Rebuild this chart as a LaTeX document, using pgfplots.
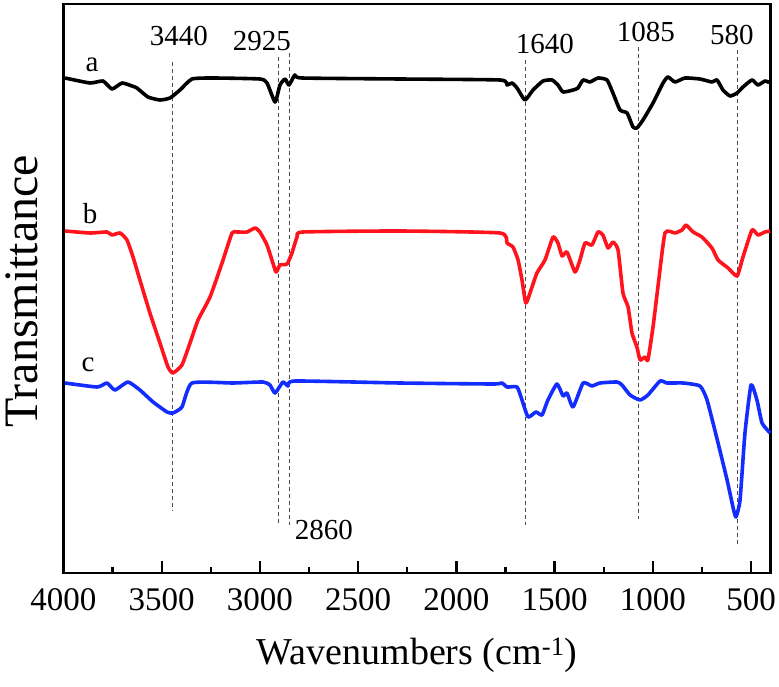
\documentclass[border=0pt]{standalone}
\usepackage{fontspec}
\setmainfont{Liberation Serif}
\usepackage{pgfplots}
\pgfplotsset{compat=1.18}
\definecolor{cred}{RGB}{255,20,30}
\definecolor{cblue}{RGB}{20,45,255}
\begin{document}
\begin{tikzpicture}
\begin{axis}[
  scale only axis,
  width=707.2pt, height=569pt,
  x dir=reverse,
  xmin=400, xmax=4000,
  ymin=0, ymax=569,
  axis line style={line width=2.6pt},
  xtick={500,1000,1500,2000,2500,3000,3500,4000},
  minor x tick num=1,
  xtick pos=bottom,
  tick align=inside,
  major tick length=12pt,
  minor tick length=6pt,
  every tick/.style={line width=2.4pt, black},
  ytick=\empty,
  /pgf/number format/assume math mode=true,
  /pgf/number format/1000 sep={},
  xticklabel style={font=\fontsize{33}{38}\selectfont, yshift=-12pt},
  xlabel={Wavenumbers (cm\textsuperscript{-1})},
  xlabel style={font=\fontsize{38}{44}\selectfont, yshift=-20pt},
  clip=false,
]
\pgfplotsset{dl/.style={line width=1pt, gray!60!black, dash pattern=on 4pt off 3pt},
  cv/.style={line width=3.6pt, line join=round, smooth, tension=0.3}}
\addplot[dl] coordinates {(3444,511) (3444,62)};
\addplot[dl] coordinates {(2905,516) (2905,48)};
\addplot[dl] coordinates {(2848,520) (2848,48)};
\addplot[dl] coordinates {(1647,513) (1647,48)};
\addplot[dl] coordinates {(1075,526) (1075,54)};
\addplot[dl] coordinates {(570,523) (570,26)};

\addplot[black, cv] coordinates {
(3992,495) (3865,490) (3799,492) (3753,484) (3702,490) (3651,487) (3626,485)
(3570,476) (3509,473) (3458,475) (3407,483) (3346,494) (3239,495) (3000,494)
(2964,490) (2923,471) (2898,488) (2872,494) (2852,488) (2822,498) (2786,495)
(2287,494) (1778,493) (1742,488) (1717,490) (1691,485) (1651,473) (1610,483)
(1559,492) (1513,493) (1483,488) (1457,481) (1406,483) (1381,485) (1355,493)
(1320,491) (1279,495) (1233,493) (1203,480) (1167,463) (1131,460) (1101,446)
(1081,445) (1050,453) (999,470) (948,490) (923,496) (887,491) (836,495)
(760,494) (699,491) (673,493) (643,483) (607,477) (571,480) (541,486)
(495,493) (465,488) (429,492) (414,491) (403,491)
};

\addplot[cred, cv] coordinates {
(3992,342) (3865,340) (3779,341) (3753,338) (3712,340) (3677,333) (3646,316)
(3611,293) (3560,260) (3509,230) (3468,206) (3443,200) (3397,208) (3356,230)
(3315,253) (3254,276) (3193,310) (3142,340) (3117,341) (3066,341) (3025,345)
(3000,341) (2964,328) (2939,313) (2918,301) (2898,308) (2862,309) (2837,320)
(2811,336) (2781,341) (2287,342) (1778,340) (1742,330) (1712,326) (1686,313)
(1666,293) (1646,270) (1615,286) (1590,300) (1549,313) (1508,336) (1483,330)
(1462,317) (1437,321) (1396,301) (1371,313) (1345,330) (1310,328) (1279,341)
(1254,338) (1228,325) (1203,331) (1177,323) (1152,280) (1126,266) (1106,240)
(1081,226) (1065,213) (1040,216) (1025,213) (999,246) (974,286) (938,340)
(887,340) (851,343) (831,348) (795,341) (750,336) (699,325) (668,313)
(617,305) (571,297) (541,316) (495,343) (465,338) (429,341) (403,342)
};

\addplot[cblue, cv] coordinates {
(3992,190) (3829,186) (3779,190) (3738,183) (3672,191) (3611,183) (3544,171)
(3473,161) (3443,160) (3397,166) (3346,190) (3137,190) (2984,191) (2949,188)
(2923,180) (2883,191) (2857,187) (2822,192) (2287,190) (1814,189) (1768,190)
(1742,186) (1691,186) (1666,173) (1635,156) (1595,161) (1564,158) (1534,173)
(1488,189) (1457,177) (1437,180) (1406,166) (1355,190) (1310,187) (1269,190)
(1182,191) (1157,188) (1116,178) (1065,173) (1025,178) (963,192) (928,190)
(846,190) (760,187) (724,173) (668,130) (622,93) (592,66) (577,56)
(556,73) (531,140) (500,188) (470,173) (444,150) (403,140)
};

\node[font=\fontsize{29}{34}\selectfont] at (axis cs:3412,537) {3440};
\node[font=\fontsize{29}{34}\selectfont] at (axis cs:2990,532) {2925};
\node[font=\fontsize{29}{34}\selectfont] at (axis cs:1549,529) {1640};
\node[font=\fontsize{29}{34}\selectfont] at (axis cs:1035,541) {1085};
\node[font=\fontsize{29}{34}\selectfont] at (axis cs:597,538) {580};
\node[font=\fontsize{29}{34}\selectfont] at (axis cs:2674,43) {2860};
\node[font=\fontsize{29}{34}\selectfont] at (axis cs:3855,508) {a};
\node[font=\fontsize{29}{34}\selectfont] at (axis cs:3865,359) {b};
\node[font=\fontsize{29}{34}\selectfont] at (axis cs:3875,208) {c};
\node[rotate=90, font=\fontsize{48}{55}\selectfont] at (rel axis cs:-0.0585,0.495) {Transmittance};
\end{axis}
\pgfresetboundingbox
\path[use as bounding box] ([shift={(-63.5pt,-113pt)}]current axis.south west) rectangle ([shift={(8.3pt,4pt)}]current axis.north east);
\end{tikzpicture}
\end{document}
